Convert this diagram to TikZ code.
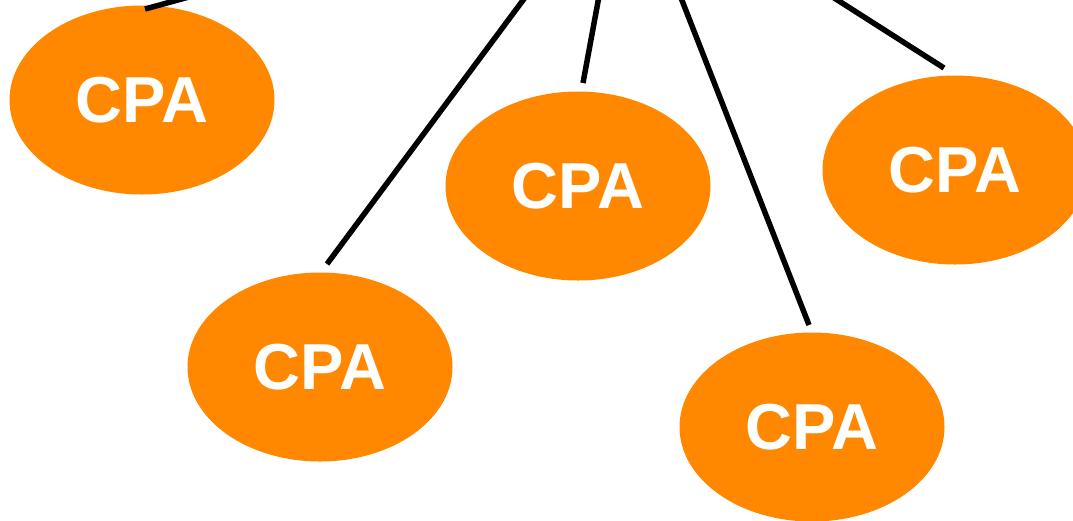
\documentclass[tikz,border=0pt]{standalone}
\usepackage{fontspec}
\setmainfont{Liberation Sans}
\usetikzlibrary{shapes.geometric}
\definecolor{cpaorange}{RGB}{255,136,0}
\tikzset{
  cpa/.style={ellipse, fill=cpaorange, draw=none, minimum width=265pt, minimum height=189pt, inner sep=0pt,
    text=white, font=\fontsize{65}{72}\selectfont\bfseries},
  link/.style={line width=5.5pt, black}
}
\begin{document}
\begin{tikzpicture}[x=1pt,y=-1pt]
\useasboundingbox (0,0) rectangle (1073,520);
\clip (0,0) rectangle (1073,520);
\node[cpa] (e1) at (142,100) {CPA};
\node[cpa] (e2) at (320,367) {CPA};
\node[cpa] (e3) at (578,186) {CPA};
\node[cpa] (e4) at (955,170) {CPA};
\node[cpa] (e5) at (812,427) {CPA};
\coordinate (b1) at (145,9);   \coordinate (t1) at (251,-20);
\coordinate (b2) at (327,264); \coordinate (t2) at (538,-20);
\coordinate (b3) at (583,83);  \coordinate (t3) at (602,-20);
\coordinate (b4) at (809,325); \coordinate (t4) at (674,-20);
\coordinate (b5) at (944,68);  \coordinate (t5) at (806,-20);
\draw[link] (b1) -- (t1);
\draw[link] (b2) -- (t2);
\draw[link] (b3) -- (t3);
\draw[link] (b4) -- (t4);
\draw[link] (b5) -- (t5);
\end{tikzpicture}
\end{document}
